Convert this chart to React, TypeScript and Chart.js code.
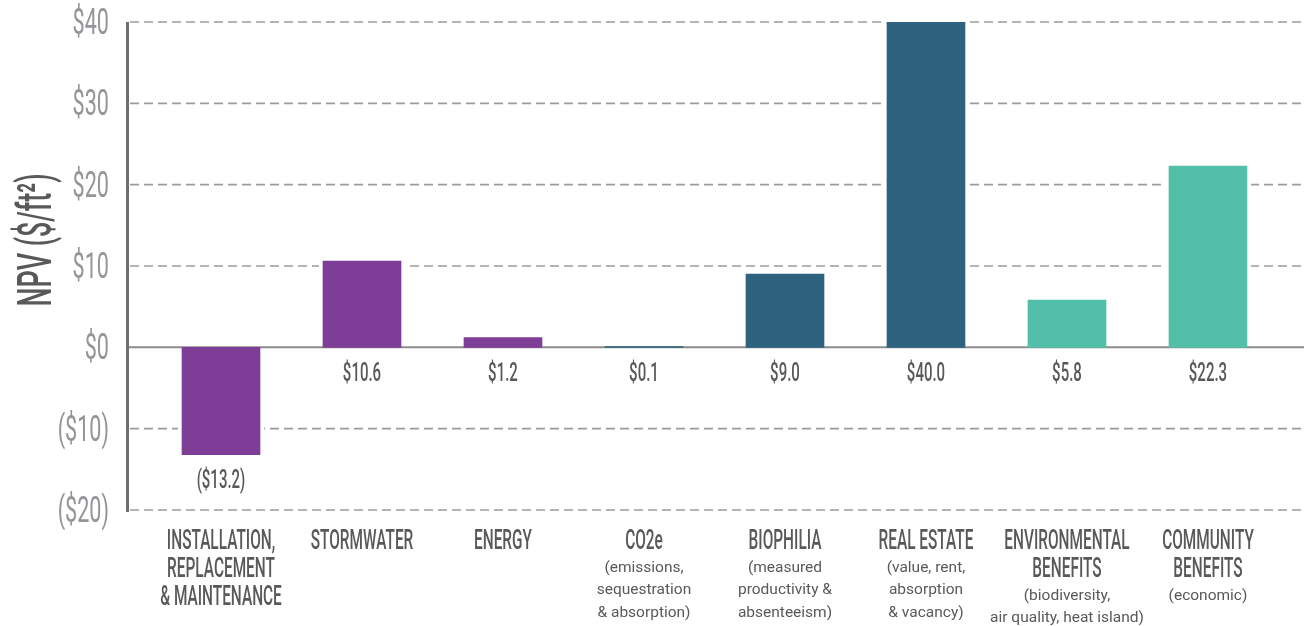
import React, { useEffect, useRef } from "react";
import { Chart, registerables } from "chart.js";

Chart.register(...registerables);

// ---------- data ----------
const categoryTitles: string[][] = [
  ["INSTALLATION,", "REPLACEMENT", "& MAINTENANCE"],
  ["STORMWATER"],
  ["ENERGY"],
  ["CO2e"],
  ["BIOPHILIA"],
  ["REAL ESTATE"],
  ["ENVIRONMENTAL", "BENEFITS"],
  ["COMMUNITY", "BENEFITS"],
];
const categorySubtitles: string[][] = [
  [],
  [],
  [],
  ["(emissions,", "sequestration", "& absorption)"],
  ["(measured", "productivity &", "absenteeism)"],
  ["(value, rent,", "absorption", "& vacancy)"],
  ["(biodiversity,", "air quality, heat island)"],
  ["(economic)"],
];
const npvValues = [-13.2, 10.6, 1.2, 0.1, 9.0, 40.0, 5.8, 22.3];
const PURPLE = "#7e3d96";
const BLUE = "#2d637f";
const MINT = "#52c0a8";
const barColors = [PURPLE, PURPLE, PURPLE, BLUE, BLUE, BLUE, MINT, MINT];
const yTickValues = [-20, -10, 0, 10, 20, 30, 40];
const yAxisTitle = "NPV ($/ft²)";

// ---------- styles ----------
const FONT = "Roboto, 'Liberation Sans', sans-serif";
const DARK = "#58595b";
const LIGHT = "#949598";
const GRID = "#9c9c9c";
const ZERO = "#8c8c8c";
const AXIS = "#6d6e71";

const fmtValue = (v: number) =>
  v < 0 ? `($${Math.abs(v).toFixed(1)})` : `$${v.toFixed(1)}`;
const fmtTick = (v: number) => (v < 0 ? `($${Math.abs(v)})` : `$${v}`);

function drawText(
  ctx: CanvasRenderingContext2D,
  text: string,
  x: number,
  y: number,
  o: { size: number; weight?: number; color: string; sx: number; align: "left" | "center" | "right" }
) {
  ctx.save();
  ctx.font = `${o.weight ?? 400} ${o.size}px ${FONT}`;
  ctx.fillStyle = o.color;
  ctx.textBaseline = "middle";
  ctx.textAlign = "left";
  const w = ctx.measureText(text).width * o.sx;
  const left = o.align === "center" ? x - w / 2 : o.align === "right" ? x - w : x;
  ctx.translate(left, y);
  ctx.scale(o.sx, 1);
  ctx.fillText(text, 0, 0);
  ctx.restore();
}

const decorPlugin = {
  id: "decor",
  beforeDatasetsDraw(chart: any) {
    const { ctx, chartArea: a } = chart;
    const ys = chart.scales.y;
    const meta = chart.getDatasetMeta(0);
    const line = (x1: number, y1: number, x2: number, y2: number) => {
      ctx.beginPath();
      ctx.moveTo(x1, y1);
      ctx.lineTo(x2, y2);
      ctx.stroke();
    };
    ctx.save();
    // dashed gridlines
    ctx.strokeStyle = GRID;
    ctx.lineWidth = 1.6;
    ctx.setLineDash([9, 5]);
    yTickValues.forEach((v) => {
      if (v === 0) return;
      const py = ys.getPixelForValue(v);
      line(a.left + 2, py, a.right, py);
    });
    ctx.setLineDash([]);
    // white gaps around bars
    ctx.fillStyle = "#ffffff";
    meta.data.forEach((bar: any) => {
      const { x, y, base, width } = bar.getProps(["x", "y", "base", "width"], true);
      ctx.fillRect(x - width / 2 - 4, Math.min(y, base) - 1, width + 8, Math.abs(base - y) + 1);
    });
    // zero line
    const y0 = ys.getPixelForValue(0);
    ctx.strokeStyle = ZERO;
    ctx.lineWidth = 2;
    line(a.left, y0, a.right, y0);
    // left axis
    ctx.strokeStyle = AXIS;
    ctx.lineWidth = 3;
    line(a.left - 0.5, a.top, a.left - 0.5, a.bottom + 2);
    ctx.restore();
  },
  afterDatasetsDraw(chart: any) {
    const { ctx, chartArea: a } = chart;
    const ys = chart.scales.y;
    const meta = chart.getDatasetMeta(0);

    meta.data.forEach((bar: any, i: number) => {
      const { x, y, base } = bar.getProps(["x", "y", "base"], true);
      // value label
      drawText(ctx, fmtValue(npvValues[i]), x, Math.max(y, base) + 27, {
        size: 25,
        weight: 500,
        color: DARK,
        sx: 0.6,
        align: "center",
      });
      // category title
      let cy = a.bottom + 32;
      const titles = categoryTitles[i];
      titles.forEach((t, j) => {
        if (j > 0) cy += 28;
        drawText(ctx, t, x, cy, { size: 28, weight: 500, color: DARK, sx: 0.55, align: "center" });
      });
      const subs = categorySubtitles[i];
      subs.forEach((s, j) => {
        cy += j === 0 ? 26 : 22.5;
        drawText(ctx, s, x, cy, { size: 15.5, weight: 400, color: DARK, sx: 1, align: "center" });
      });
    });

    // y tick labels
    yTickValues.forEach((v) => {
      const py = ys.getPixelForValue(v);
      drawText(ctx, fmtTick(v), a.left - 19, py + 3, {
        size: 36,
        weight: 400,
        color: LIGHT,
        sx: 0.6,
        align: "right",
      });
    });

    // y axis title
    ctx.save();
    ctx.font = `500 48px ${FONT}`;
    ctx.fillStyle = DARK;
    ctx.textBaseline = "alphabetic";
    ctx.textAlign = "left";
    const sx = 0.56;
    const w = ctx.measureText(yAxisTitle).width * sx;
    ctx.translate(51, a.top + 218);
    ctx.rotate(-Math.PI / 2);
    ctx.translate(-w / 2, 0);
    ctx.scale(sx, 1);
    ctx.fillText(yAxisTitle, 0, 0);
    ctx.restore();
  },
};

export default function App() {
  const ref = useRef<HTMLCanvasElement>(null);

  useEffect(() => {
    if (!ref.current) return;
    const chart = new Chart(ref.current, {
      type: "bar",
      data: {
        datasets: [
          {
            data: npvValues.map((v, i) => ({ x: i, y: v })),
            backgroundColor: barColors,
            borderWidth: 0,
            barThickness: 78,
          } as any,
        ],
      },
      options: {
        responsive: false,
        devicePixelRatio: 1,
        animation: false,
        layout: { padding: { left: 128, top: 22, right: 0, bottom: 116 } },
        plugins: { legend: { display: false }, tooltip: { enabled: false } },
        scales: {
          x: {
            type: "linear",
            display: false,
            offset: false,
            min: -0.6596,
            max: 7.681,
            ticks: { stepSize: 1, includeBounds: false } as any,
          },
          y: { type: "linear", display: false, min: -20, max: 40 },
        },
      },
      plugins: [decorPlugin],
    });
    return () => chart.destroy();
  }, []);

  return (
    <div style={{ position: "fixed", left: 0, top: 0, width: 1304, height: 626, background: "#fff" }}>
      <canvas ref={ref} width={1304} height={626} style={{ display: "block" }} />
    </div>
  );
}
